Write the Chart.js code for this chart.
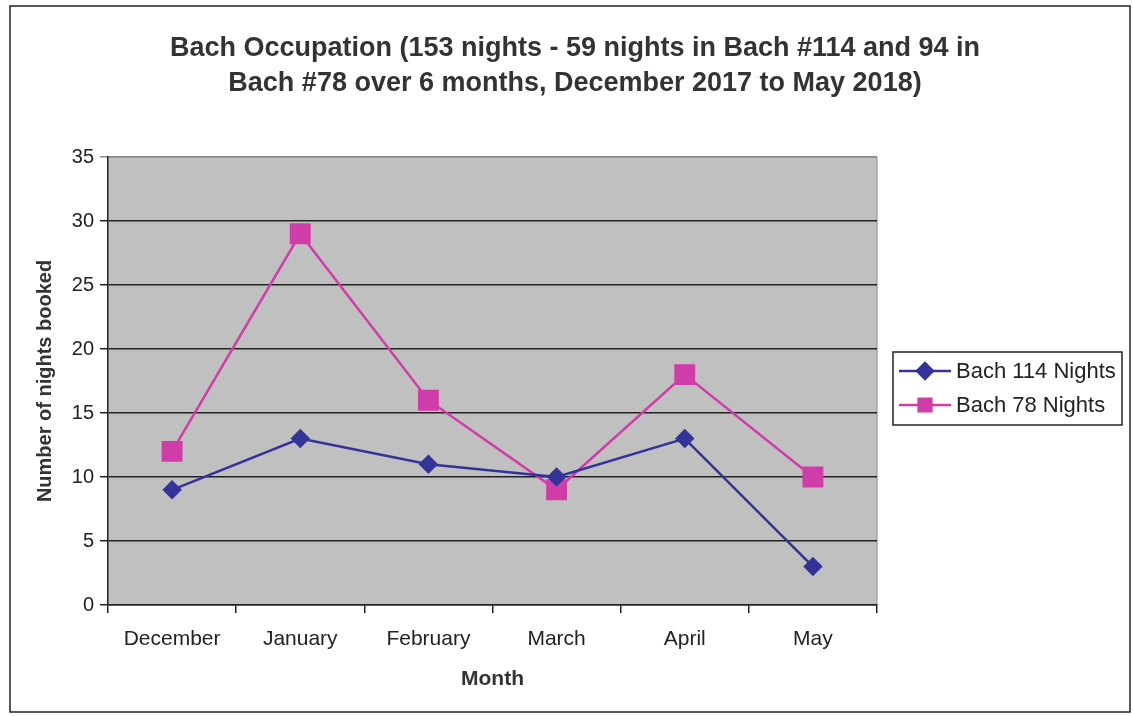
<!DOCTYPE html>
<html>
<head>
<meta charset="utf-8">
<script src="https://cdn.jsdelivr.net/npm/chart.js@4/dist/chart.umd.min.js"></script>
<style>
  body { margin: 0; background: #fff; }
  #wrap { width: 1133px; height: 716px; position: relative; }
</style>
</head>
<body>
<div id="wrap"><canvas id="occupancy"></canvas></div>
<script>
// data
const months = ['December', 'January', 'February', 'March', 'April', 'May'];
const bach114 = [9, 13, 11, 10, 13, 3];
const bach78 = [12, 29, 16, 9, 18, 10];
const yTicks = [0, 5, 10, 15, 20, 25, 30, 35];
const titleLines = ['Bach Occupation (153 nights - 59 nights in Bach #114 and 94 in',
                    'Bach #78 over 6 months, December 2017 to May 2018)'];

const navy = '#333399';
const magenta = '#d03ca8';
const font = 'Liberation Sans, Arial, sans-serif';

// white page, outer frame and grey plot area
const frame = {
    id: 'frame',
    beforeDraw(chart) {
        const c = chart.ctx, a = chart.chartArea;
        c.save();
        c.fillStyle = '#fff';
        c.fillRect(0, 0, chart.width, chart.height);
        c.strokeStyle = '#222';
        c.lineWidth = 1.5;
        c.strokeRect(10, 6, 1120, 706);
        c.fillStyle = '#c0c0c0';
        c.fillRect(a.left, a.top, a.right - a.left, a.bottom - a.top);
        c.strokeStyle = '#8c8c8c';
        c.lineWidth = 1;
        c.beginPath();
        c.moveTo(a.left, a.top);
        c.lineTo(a.right, a.top);
        c.lineTo(a.right, a.bottom);
        c.stroke();
        // title, centred on the whole frame
        c.fillStyle = '#333';
        c.font = 'bold 27px ' + font;
        c.textAlign = 'center';
        c.textBaseline = 'middle';
        titleLines.forEach((t, i) => c.fillText(t, 575, 49 + i * 35));
        c.restore();
    }
};

// Excel-style legend with line + marker, in a bordered box
const boxLegend = {
    id: 'boxLegend',
    afterDraw(chart) {
        const c = chart.ctx;
        const x = 893, y = 352, w = 229, h = 73;
        c.save();
        c.fillStyle = '#fff';
        c.fillRect(x, y, w, h);
        c.strokeStyle = '#222';
        c.lineWidth = 1.5;
        c.strokeRect(x, y, w, h);
        chart.data.datasets.forEach((ds, i) => {
            const ly = y + 19 + i * 34;
            c.strokeStyle = ds.borderColor;
            c.lineWidth = 2.5;
            c.beginPath();
            c.moveTo(x + 6, ly);
            c.lineTo(x + 58, ly);
            c.stroke();
            c.fillStyle = ds.backgroundColor;
            Chart.helpers.drawPoint(c, {
                pointStyle: ds.pointStyle,
                radius: i === 0 ? 8 : 9,
                borderWidth: 1
            }, x + 32, ly);
            c.fillStyle = '#222';
            c.font = '22px ' + font;
            c.textAlign = 'left';
            c.textBaseline = 'middle';
            c.fillText(ds.label, x + 63, ly + 1);
        });
        c.restore();
    }
};

new Chart(document.getElementById('occupancy'), {
    type: 'line',
    data: {
        labels: months,
        datasets: [{
            label: 'Bach 114 Nights',
            data: bach114,
            borderColor: navy,
            backgroundColor: navy,
            borderWidth: 2.5,
            pointStyle: 'rectRot',
            pointRadius: 8,
            pointHoverRadius: 8
        }, {
            label: 'Bach 78 Nights',
            data: bach78,
            borderColor: magenta,
            backgroundColor: magenta,
            borderWidth: 2.5,
            pointStyle: 'rect',
            pointRadius: 13,
            pointHoverRadius: 13
        }]
    },
    options: {
        responsive: true,
        maintainAspectRatio: false,
        animation: false,
        layout: { padding: { left: 8, right: 256, top: 157, bottom: 20 } },
        plugins: {
            legend: { display: false },
            tooltip: { enabled: false },
            title: { display: false }
        },
        scales: {
            x: {
                offset: true,
                afterFit(s) { s.height = 91; },
                grid: { offset: true, drawOnChartArea: false, color: '#222', tickLength: 8, lineWidth: 1.5 },
                border: { color: '#222', width: 1.5 },
                ticks: { color: '#222', font: { family: font, size: 21 }, padding: 14, maxRotation: 0 },
                title: { display: true, text: 'Month', color: '#333', font: { family: font, size: 21, weight: 'bold' }, padding: { top: 10 } }
            },
            y: {
                min: 0,
                max: 35,
                afterFit(s) { s.width = 100; },
                afterBuildTicks(s) { s.ticks = yTicks.map(v => ({ value: v })); },
                grid: {
                    color: ctx => ctx.tick && ctx.tick.value === 35 ? '#8c8c8c' : '#222',
                    lineWidth: 1.5,
                    tickLength: 8
                },
                border: { color: '#222', width: 1.5 },
                ticks: { color: '#222', font: { family: font, size: 20 }, padding: 6 },
                title: { display: true, text: 'Number of nights booked', color: '#333', font: { family: font, size: 20, weight: 'bold' }, padding: { top: 25, bottom: 4 } }
            }
        }
    },
    plugins: [frame, boxLegend]
});
</script>
</body>
</html>
